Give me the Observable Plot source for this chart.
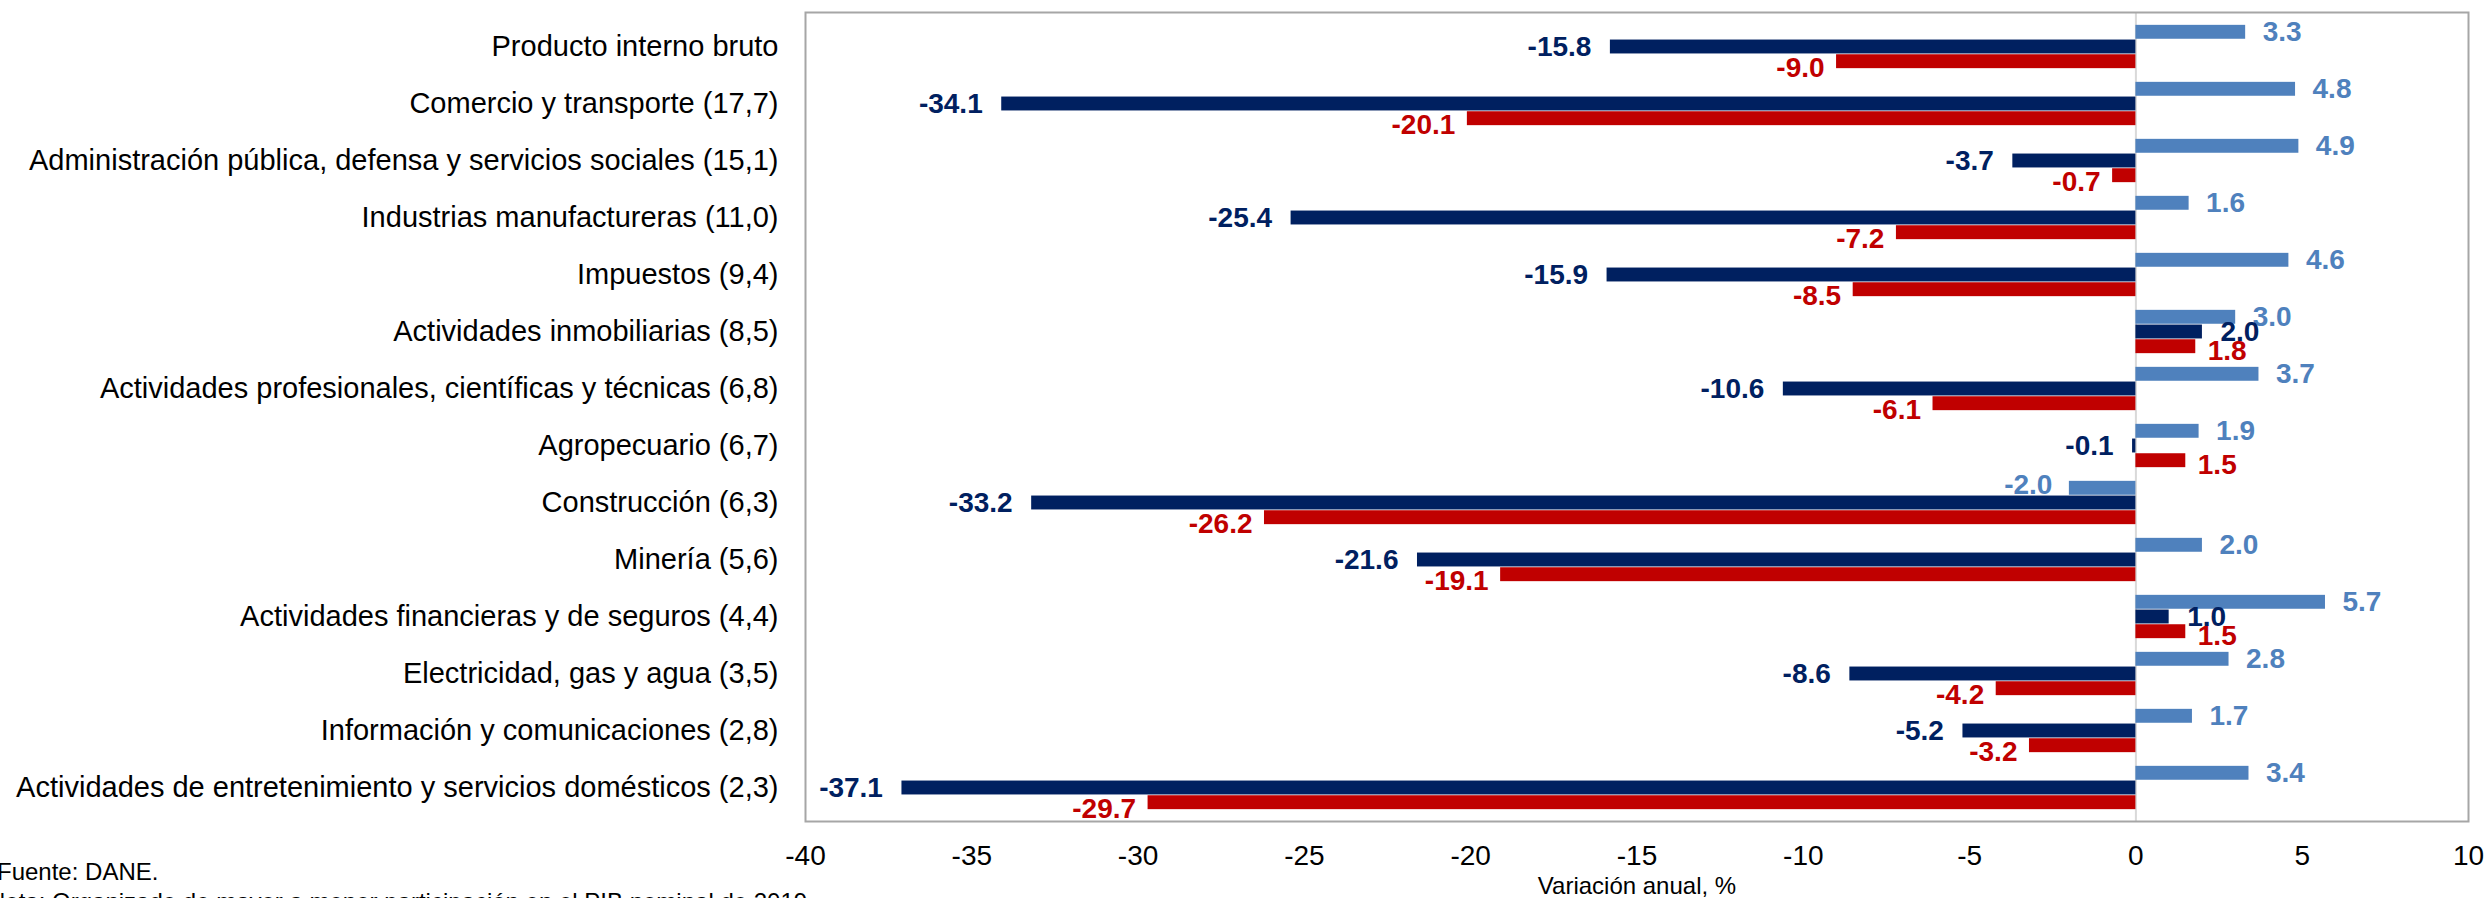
<!DOCTYPE html>
<html>
<head>
<meta charset="utf-8">
<script src="https://cdn.jsdelivr.net/npm/d3@7"></script>
<script src="https://cdn.jsdelivr.net/npm/@observablehq/plot@0.6"></script>
<style>
  html, body { margin: 0; padding: 0; background: #fff; overflow: hidden; }
  #wrap { position: relative; width: 2491px; height: 898px; overflow: hidden; font-family: "Liberation Sans", Arial, sans-serif; }
  .foot { position: absolute; font-size: 24px; color: #000; white-space: nowrap; line-height: 1; }
  #f1 { left: -3px; top: 860px; }
  #f2 { left: -12px; top: 890px; }
  #chart [aria-label="y-axis tick label"], #chart [aria-label="y-axis tick label"] text { font-size: 29px !important; }
  #chart [aria-label="x-axis label"], #chart [aria-label="x-axis label"] text { font-size: 24px !important; }
</style>
</head>
<body>
<div id="wrap">
  <div id="chart"></div>
  <div class="foot" id="f1">Fuente: DANE.</div>
  <div class="foot" id="f2">Nota: Organizado de mayor a menor participación en el PIB nominal de 2019</div>
</div>
<script>
// ---- Data ----
const categories = [
  "Producto interno bruto",
  "Comercio y transporte (17,7)",
  "Administración pública, defensa y servicios sociales (15,1)",
  "Industrias manufactureras (11,0)",
  "Impuestos (9,4)",
  "Actividades inmobiliarias (8,5)",
  "Actividades profesionales, científicas y técnicas (6,8)",
  "Agropecuario (6,7)",
  "Construcción (6,3)",
  "Minería (5,6)",
  "Actividades financieras y de seguros (4,4)",
  "Electricidad, gas y agua (3,5)",
  "Información y comunicaciones (2,8)",
  "Actividades de entretenimiento y servicios domésticos (2,3)"
];
const seriesNames = ["2019", "II trimestre 2020", "I semestre 2020"];
const values2019 = [3.3, 4.8, 4.9, 1.6, 4.6, 3.0, 3.7, 1.9, -2.0, 2.0, 5.7, 2.8, 1.7, 3.4];
const valuesTrim = [-15.8, -34.1, -3.7, -25.4, -15.9, 2.0, -10.6, -0.1, -33.2, -21.6, 1.0, -8.6, -5.2, -37.1];
const valuesSem  = [-9.0, -20.1, -0.7, -7.2, -8.5, 1.8, -6.1, 1.5, -26.2, -19.1, 1.5, -4.2, -3.2, -29.7];
const xTicks = [-40, -35, -30, -25, -20, -15, -10, -5, 0, 5, 10];
const colors = ["#4f81bd", "#002060", "#c00000"];

// ---- Table built from the arrays ----
const seriesValues = [values2019, valuesTrim, valuesSem];
const rows = seriesNames.flatMap((s, k) =>
  categories.map((c, i) => ({cat: c, serie: s, k, value: seriesValues[k][i]}))
);

// ---- Layout ----
const W = 2491, H = 898;
const mTop = 12, mBottom = 77, mLeft = 805, mRight = 23;
const band = (H - mTop - mBottom) / categories.length;
const barH = 14.7;
const outer = (band - 3 * barH) / 2;

const labelCfg = [
  {pos: {dx: 17, dy: -barH}, neg: {dx: -17, dy: -barH - 3}},
  {pos: {dx: 18, dy: 0}, neg: {dx: -19, dy: 0}},
  {pos: {dx: 12, dy: barH + 4}, neg: {dx: -12, dy: barH + 6}}
];

const marks = [Plot.ruleX([0], {stroke: "#d9d9d9", strokeWidth: 2})];
seriesNames.forEach((s, k) => {
  const data = rows.filter(d => d.k === k);
  marks.push(Plot.barX(data, {
    y: "cat", x: "value", fill: colors[k],
    insetTop: outer + k * barH,
    insetBottom: band - outer - (k + 1) * barH
  }));
});
seriesNames.forEach((s, k) => {
  const data = rows.filter(d => d.k === k);
  const pos = data.filter(d => d.value >= 0), neg = data.filter(d => d.value < 0);
  const common = {y: "cat", x: "value", text: d => d.value.toFixed(1), fill: colors[k],
    fontWeight: "bold", fontSize: 28, fontFamily: "Liberation Sans, Arial, sans-serif"};
  marks.push(Plot.text(pos, {...common, textAnchor: "start", ...labelCfg[k].pos}));
  marks.push(Plot.text(neg, {...common, textAnchor: "end", ...labelCfg[k].neg}));
});
marks.push(Plot.frame({stroke: "#a6a6a6", strokeWidth: 2}));

const chart = Plot.plot({
  width: W, height: H,
  marginTop: mTop, marginBottom: mBottom, marginLeft: mLeft, marginRight: mRight,
  style: {fontFamily: "Liberation Sans, Arial, sans-serif", fontSize: "28px", color: "#000", background: "#fff", overflow: "visible"},
  x: {domain: [-40, 10], ticks: xTicks, tickFormat: d => String(d), tickSize: 0, tickPadding: 24,
      label: "Variación anual, %", labelAnchor: "center", labelArrow: "none", labelOffset: 72},
  y: {domain: categories, padding: 0, tickSize: 0, tickPadding: 27, label: null},
  marks
});
document.getElementById("chart").appendChild(chart);
</script>
</body>
</html>
